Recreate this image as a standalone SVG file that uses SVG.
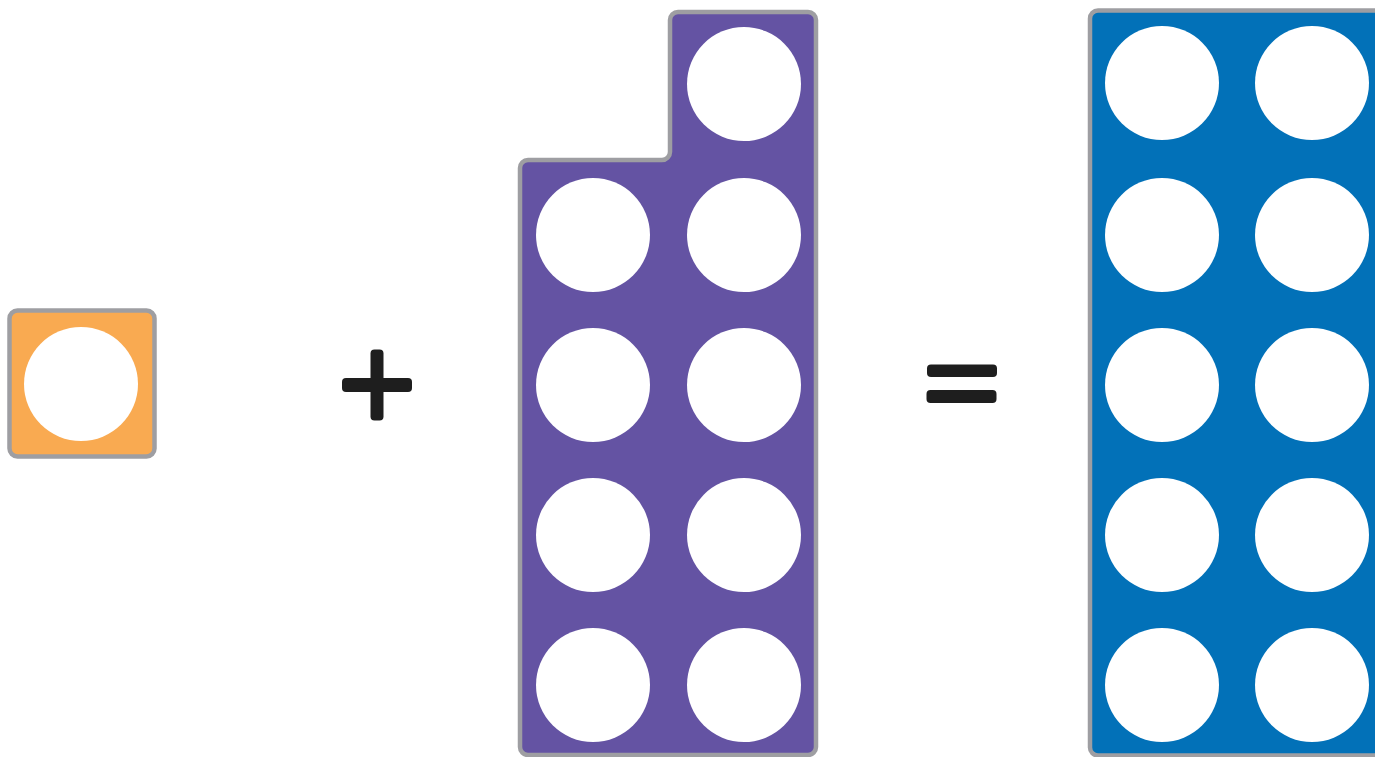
<svg xmlns="http://www.w3.org/2000/svg" width="1375" height="757" viewBox="0 0 1375 757">
<style>
.frame{stroke:#9e9ea2;stroke-width:4.5;stroke-linejoin:round}
.hole{fill:#ffffff}
.sign{fill:#1e1e1e}
</style>
<rect width="1375" height="757" fill="#ffffff"/>
<g id="one">
<rect class="frame" x="9.5" y="310.5" width="145" height="146" rx="8" fill="#f9aa51"/>
<circle class="hole" cx="81" cy="384" r="57"/>
</g>
<g id="plus">
<rect class="sign" x="370.5" y="349.5" width="13" height="71" rx="4"/>
<rect class="sign" x="342" y="378" width="70" height="14" rx="4"/>
</g>
<g id="nine">
<path class="frame" fill="#6453a3" d="M528,160 H662 A8,8 0 0 0 670,152 V20 A8,8 0 0 1 678,12 H808 A8,8 0 0 1 816,20 V747 A8,8 0 0 1 808,755 H528 A8,8 0 0 1 520,747 V168 A8,8 0 0 1 528,160 Z"/>
<circle class="hole" cx="744" cy="84" r="57"/>
<circle class="hole" cx="593" cy="235" r="57"/>
<circle class="hole" cx="744" cy="235" r="57"/>
<circle class="hole" cx="593" cy="385" r="57"/>
<circle class="hole" cx="744" cy="385" r="57"/>
<circle class="hole" cx="593" cy="535" r="57"/>
<circle class="hole" cx="744" cy="535" r="57"/>
<circle class="hole" cx="593" cy="685" r="57"/>
<circle class="hole" cx="744" cy="685" r="57"/>
</g>
<g id="equals">
<rect class="sign" x="927" y="364.5" width="70" height="12.5" rx="4"/>
<rect class="sign" x="926.5" y="390" width="70" height="13" rx="4"/>
</g>
<g id="ten">
<rect class="frame" x="1090" y="10.5" width="310" height="745" rx="8" fill="#0271b8"/>
<circle class="hole" cx="1162" cy="83" r="57"/>
<circle class="hole" cx="1312" cy="83" r="57"/>
<circle class="hole" cx="1162" cy="235" r="57"/>
<circle class="hole" cx="1312" cy="235" r="57"/>
<circle class="hole" cx="1162" cy="385" r="57"/>
<circle class="hole" cx="1312" cy="385" r="57"/>
<circle class="hole" cx="1162" cy="535" r="57"/>
<circle class="hole" cx="1312" cy="535" r="57"/>
<circle class="hole" cx="1162" cy="685" r="57"/>
<circle class="hole" cx="1312" cy="685" r="57"/>
</g>
<g id="connectors"></g>
</svg>
